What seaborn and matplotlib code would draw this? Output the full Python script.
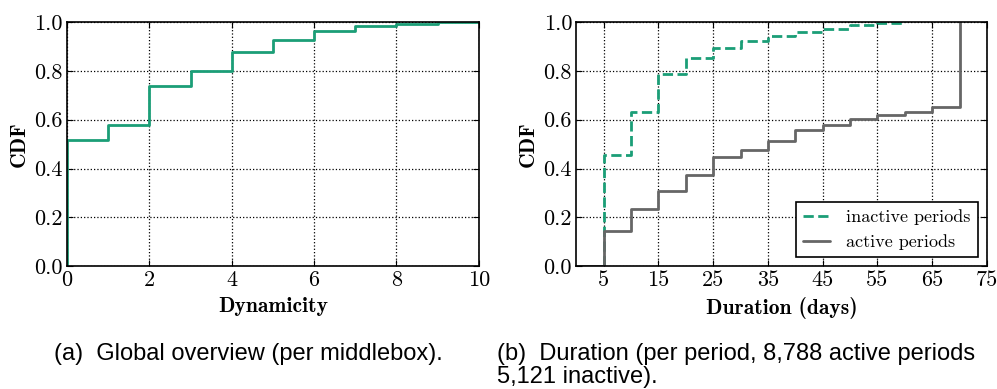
"""Two CDF panels: dynamicity per middlebox and duration of active/inactive periods."""
import matplotlib
matplotlib.use("Agg")
import matplotlib.pyplot as plt
import seaborn as sns

sns.set_style("ticks")
plt.rcParams["font.family"] = ["cmr10", "DejaVu Serif"]
plt.rcParams["axes.formatter.use_mathtext"] = True
plt.rcParams["axes.unicode_minus"] = False
for key in ["text.color", "axes.labelcolor", "xtick.color", "ytick.color"]:
    plt.rcParams[key] = "black"

GREEN = "#1b9e77"
GREY = "#666666"

# (a) dynamicity CDF
dyn_x = [0, 0, 1, 2, 3, 4, 5, 6, 7, 8, 9, 10]
dyn_cdf = [0.0, 0.515, 0.578, 0.740, 0.800, 0.877, 0.927, 0.963, 0.986, 0.993, 1.0, 1.0]

# (b) duration CDFs (days)
active_x = [0, 5, 10, 15, 20, 25, 30, 35, 40, 45, 50, 55, 60, 65, 70]
active_cdf = [0.0, 0.144, 0.233, 0.308, 0.374, 0.449, 0.474, 0.511, 0.558,
              0.577, 0.603, 0.621, 0.632, 0.653, 1.0]
inactive_x = [5, 5, 10, 15, 20, 25, 30, 35, 40, 45, 50, 55, 60]
inactive_cdf = [0.0, 0.456, 0.632, 0.789, 0.852, 0.893, 0.923, 0.945, 0.960,
                0.974, 0.988, 0.996, 1.0]

dyn_ticks = [0, 2, 4, 6, 8, 10]
dur_ticks = [5, 15, 25, 35, 45, 55, 65, 75]
cdf_ticks = [0.0, 0.2, 0.4, 0.6, 0.8, 1.0]

label_font = dict(family=["cmb10", "DejaVu Serif"], fontsize=15.5)
caption_font = dict(family=["Liberation Sans"], fontsize=17, color="black")


def style_axis(ax):
    ax.grid(True, linestyle=":", color="black", linewidth=0.9)
    ax.tick_params(direction="in", top=True, right=True, labelsize=16, length=4, pad=3)
    for s in ax.spines.values():
        s.set_linewidth(1.2)
        s.set_color("black")
    ax.set_yticks(cdf_ticks)
    ax.set_yticklabels([f"{t:.1f}" for t in cdf_ticks])
    ax.set_ylim(0, 1)
    ax.set_ylabel("CDF", labelpad=4, **label_font)


fig = plt.figure(figsize=(9.97, 3.89), dpi=100)
ax1 = fig.add_axes([0.0672, 0.316, 0.413, 0.627])
ax2 = fig.add_axes([0.578, 0.316, 0.412, 0.627])

sns.lineplot(x=dyn_x, y=dyn_cdf, ax=ax1, drawstyle="steps-post", sort=False,
             estimator=None, color=GREEN, linewidth=2)
style_axis(ax1)
ax1.set_xlim(0, 10)
ax1.set_xticks(dyn_ticks)
ax1.set_xticklabels([str(t) for t in dyn_ticks])
ax1.set_xlabel("Dynamicity", labelpad=5, **label_font)

sns.lineplot(x=inactive_x, y=inactive_cdf, ax=ax2, drawstyle="steps-post", sort=False,
             estimator=None, color=GREEN, linewidth=2, linestyle="--",
             label="inactive periods")
sns.lineplot(x=active_x, y=active_cdf, ax=ax2, drawstyle="steps-post", sort=False,
             estimator=None, color=GREY, linewidth=2, label="active periods")
style_axis(ax2)
ax2.set_xlim(0, 75)
ax2.set_xticks(dur_ticks)
ax2.set_xticklabels([str(t) for t in dur_ticks])
ax2.set_xlabel("Duration (days)", labelpad=5, **label_font)
leg = ax2.legend(loc="lower right", fancybox=False, framealpha=1, edgecolor="black",
                 prop={"family": ["cmr10", "DejaVu Serif"], "size": 13},
                 borderaxespad=0.5, handlelength=1.5, handletextpad=0.9)
leg.get_frame().set_linewidth(1.2)

fig.text(0.054, 0.075, "(a)  Global overview (per middlebox).", **caption_font)
fig.text(0.498, 0.075, "(b)  Duration (per period, 8,788 active periods", **caption_font)
fig.text(0.498, 0.016, "5,121 inactive).", **caption_font)

fig.savefig("out.png", dpi=100)
plt.close(fig)
